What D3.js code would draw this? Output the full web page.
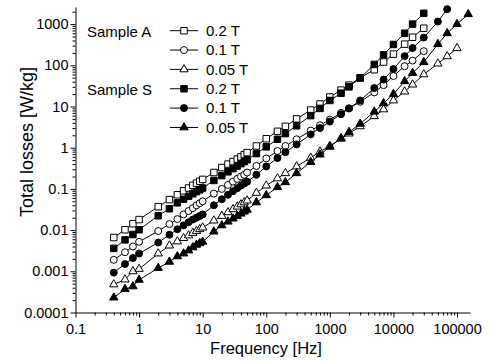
<!DOCTYPE html>
<html>
<head>
<meta charset="utf-8">
<script src="https://d3js.org/d3.v7.min.js"></script>
<style>
  body { margin: 0; background: #fff; }
  svg { font-family: "Liberation Sans", Arial, sans-serif; }
</style>
</head>
<body>
<div id="chart"></div>
<script>
const width = 496
const height = 364

// frequency points [Hz]
const freqs = [0.4, 0.6, 0.8, 1, 2, 3, 4, 5, 6, 7, 8, 9, 10,
  15, 20, 25, 30, 35, 40, 45, 50, 70, 100, 150, 200, 300, 500, 700,
  1000, 1500, 2000, 3000, 5000, 7000, 10000, 15000, 20000, 30000,
  50000, 70000, 100000, 150000]

// total losses [W/kg], one list per curve
const lossA02 = [0.0066, 0.0102, 0.0143, 0.018, 0.037, 0.055, 0.072, 0.09, 0.105, 0.122, 0.138, 0.153, 0.17,
  0.25, 0.33, 0.4, 0.46, 0.53, 0.6, 0.68, 0.76, 1.1, 1.65, 2.5, 3.3, 5, 8.2, 11.5,
  17, 25, 33, 50, 78, 120, 187, 326, 480, 795]
const lossA01 = [0.0019, 0.0029, 0.004, 0.0052, 0.0095, 0.014, 0.0185, 0.024, 0.029, 0.034, 0.04, 0.045, 0.05,
  0.077, 0.1, 0.125, 0.15, 0.175, 0.2, 0.22, 0.25, 0.36, 0.55, 0.83, 1.1, 1.6, 2.6, 3.5,
  4.8, 7, 9, 13, 22, 33, 55, 95, 130, 220]
const lossA005 = [0.00048, 0.00063, 0.001, 0.00114, 0.0027, 0.0042, 0.0053, 0.0064, 0.0074, 0.0085, 0.0095, 0.0105, 0.0115,
  0.017, 0.022, 0.027, 0.032, 0.037, 0.042, 0.047, 0.052, 0.08, 0.12, 0.18, 0.24, 0.35, 0.57, 0.8,
  1.1, 1.65, 2.2, 3.3, 5.8, 8.5, 14, 23, 34, 60, 110, 165, 260]
const lossS02 = [0.0036, 0.0058, 0.0078, 0.0102, 0.0223, 0.033, 0.046, 0.056, 0.066, 0.076, 0.086, 0.095, 0.105,
  0.16, 0.21, 0.26, 0.31, 0.36, 0.41, 0.46, 0.51, 0.72, 1.05, 1.6, 2.2, 3.4, 6, 9,
  14, 21, 30, 49, 105, 180, 320, 600, 1000, 1830]
const lossS01 = [0.00093, 0.0015, 0.0021, 0.0027, 0.005, 0.0077, 0.0105, 0.013, 0.0155, 0.018, 0.02, 0.022, 0.024,
  0.04, 0.056, 0.072, 0.088, 0.104, 0.12, 0.135, 0.15, 0.22, 0.35, 0.56, 0.78, 1.2, 2.1, 3,
  4.3, 6.5, 9, 14, 28, 45, 81, 167, 262, 470, 1150, 2300]
const lossS005 = [0.00023, 0.00037, 0.00043, 0.00062, 0.0012, 0.0017, 0.0023, 0.0027, 0.0032, 0.0038, 0.0044, 0.0048, 0.0052,
  0.0092, 0.013, 0.016, 0.019, 0.022, 0.025, 0.028, 0.031, 0.047, 0.07, 0.11, 0.145, 0.24, 0.45, 0.68,
  1.05, 1.7, 2.4, 3.8, 7.5, 12, 20, 41, 65, 119, 326, 600, 1000, 1740]

const xTicks = [0.1, 1, 10, 100, 1000, 10000, 100000]
const yTicks = [0.0001, 0.001, 0.01, 0.1, 1, 10, 100, 1000]
const legendLabels = ["0.2 T", "0.1 T", "0.05 T", "0.2 T", "0.1 T", "0.05 T"]
const groupLabels = ["Sample A", "Sample S"]

const series = [
  { values: lossA02, symbol: d3.symbolSquare, size: 42, filled: false },
  { values: lossA01, symbol: d3.symbolCircle, size: 38, filled: false },
  { values: lossA005, symbol: d3.symbolTriangle, size: 30, filled: false },
  { values: lossS02, symbol: d3.symbolSquare, size: 42, filled: true },
  { values: lossS01, symbol: d3.symbolCircle, size: 38, filled: true },
  { values: lossS005, symbol: d3.symbolTriangle, size: 30, filled: true }
]

const x = d3.scaleLog().domain([0.1, 160000]).range([75.5, 470])
const y = d3.scaleLog().domain([0.0001, 2600]).range([312.5, 7])

const svg = d3.select("#chart").append("svg")
  .attr("width", width).attr("height", height)

// axes
const xAxis = svg.append("g").attr("transform", "translate(0,312.5)")
xAxis.call(d3.axisBottom(x).tickValues(xTicks).tickFormat(d => String(d)).tickSize(5).tickPadding(6).tickSizeOuter(0))
svg.append("g").attr("transform", "translate(0,312.5)")
  .call(d3.axisBottom(x).tickValues(x.ticks().filter(d => !xTicks.includes(d))).tickFormat("").tickSize(3).tickSizeOuter(0))
  .select(".domain").remove()

const yAxis = svg.append("g").attr("transform", "translate(75.5,0)")
yAxis.call(d3.axisLeft(y).tickValues(yTicks).tickFormat(d => String(d)).tickSize(5).tickPadding(2).tickSizeOuter(0))
svg.append("g").attr("transform", "translate(75.5,0)")
  .call(d3.axisLeft(y).tickValues(y.ticks().filter(d => !yTicks.includes(d))).tickFormat("").tickSize(3).tickSizeOuter(0))
  .select(".domain").remove()

svg.selectAll(".tick text").attr("font-size", 14.5).attr("fill", "#000")
  .attr("font-family", "Liberation Sans, Arial, sans-serif")
svg.selectAll(".domain, .tick line").attr("stroke", "#000")

svg.append("text")
  .attr("transform", "translate(33,142) rotate(-90)")
  .attr("text-anchor", "middle")
  .attr("font-size", 18)
  .text("Total losses [W/kg]")

svg.append("text")
  .attr("x", 266).attr("y", 354)
  .attr("text-anchor", "middle")
  .attr("font-size", 16.5)
  .text("Frequency [Hz]")

// curves
const line = d3.line().x(d => x(d[0])).y(d => y(d[1]))
const plot = svg.append("g")

series.forEach(s => {
  const pts = s.values.map((v, i) => [freqs[i], v])
  plot.append("path")
    .attr("d", line(pts))
    .attr("fill", "none")
    .attr("stroke", "#000")
    .attr("stroke-width", 1)
  plot.selectAll(null)
    .data(pts)
    .enter()
    .append("path")
    .attr("d", d3.symbol().type(s.symbol).size(s.size))
    .attr("transform", d => "translate(" + x(d[0]) + "," + y(d[1]) + ")")
    .attr("fill", s.filled ? "#000" : "#fff")
    .attr("stroke", "#000")
    .attr("stroke-width", 1)
})

// legend
const legend = svg.append("g")
groupLabels.forEach((g, i) => {
  legend.append("text")
    .attr("x", 87).attr("y", 37 + i * 58)
    .attr("font-size", 15)
    .text(g)
})
series.forEach((s, i) => {
  const cy = 30.7 + i * 19.35
  legend.append("line")
    .attr("x1", 170).attr("x2", 198)
    .attr("y1", cy).attr("y2", cy)
    .attr("stroke", "#000")
  legend.append("path")
    .attr("d", d3.symbol().type(s.symbol).size(s.size))
    .attr("transform", "translate(184," + cy + ")")
    .attr("fill", s.filled ? "#000" : "#fff")
    .attr("stroke", "#000")
  legend.append("text")
    .attr("x", 206).attr("y", cy + 5.3)
    .attr("font-size", 15)
    .text(legendLabels[i])
})
</script>
</body>
</html>
